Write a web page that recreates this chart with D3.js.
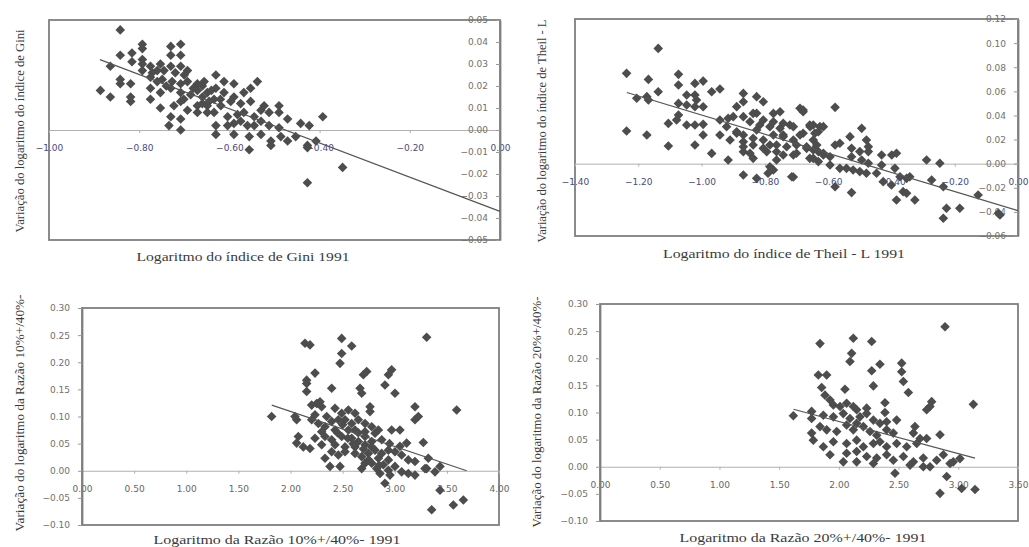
<!DOCTYPE html>
<html>
<head>
<meta charset="utf-8">
<script src="https://cdn.jsdelivr.net/npm/d3@7/dist/d3.min.js"></script>
<style>
  body { margin: 0; background: #fff; }
  .tick text { font-family: "DejaVu Sans", sans-serif; font-size: 9px; }
  .title { font-family: "Liberation Serif", serif; font-size: 12.5px; fill: #3a3a3a; }
</style>
</head>
<body>
<div id="chart"></div>
<script>
var width = 1029,
    height = 547;

// painel 1: Gini
var giniPts = [
  [-0.842,0.0455],[-0.793,0.039],[-0.793,0.037],[-0.730,0.038],[-0.708,0.039],[-0.730,0.034],[-0.708,0.034],
  [-0.842,0.034],[-0.816,0.035],[-0.816,0.031],[-0.793,0.032],[-0.793,0.030],[-0.864,0.029],[-0.886,0.018],
  [-0.864,0.015],[-0.842,0.023],[-0.842,0.021],[-0.819,0.021],[-0.819,0.015],[-0.819,0.013],
  [-0.793,0.027],[-0.775,0.029],[-0.771,0.026],[-0.753,0.030],[-0.745,0.027],[-0.730,0.029],[-0.708,0.029],[-0.693,0.027],
  [-0.775,0.024],[-0.760,0.022],[-0.749,0.023],[-0.727,0.022],[-0.708,0.021],[-0.693,0.022],[-0.671,0.021],[-0.656,0.022],
  [-0.630,0.025],[-0.612,0.022],[-0.590,0.021],
  [-0.775,0.019],[-0.775,0.014],[-0.753,0.017],[-0.730,0.019],[-0.708,0.017],[-0.701,0.014],[-0.686,0.016],[-0.671,0.018],
  [-0.649,0.017],[-0.630,0.019],[-0.612,0.017],[-0.590,0.015],[-0.568,0.017],[-0.553,0.019],[-0.538,0.022],
  [-0.753,0.010],[-0.723,0.011],[-0.708,0.013],[-0.693,0.009],[-0.671,0.011],[-0.660,0.012],[-0.649,0.011],[-0.634,0.014],
  [-0.619,0.011],[-0.597,0.013],[-0.575,0.012],[-0.553,0.013],[-0.523,0.011],[-0.490,0.011],
  [-0.730,0.006],[-0.708,0.005],[-0.671,0.008],[-0.649,0.008],[-0.634,0.008],[-0.604,0.006],[-0.582,0.007],[-0.568,0.008],
  [-0.545,0.006],[-0.530,0.009],[-0.512,0.008],[-0.490,0.008],[-0.471,0.005],
  [-0.734,0.002],[-0.708,0.000],[-0.630,0.002],[-0.630,-0.002],[-0.604,0.002],[-0.590,0.003],[-0.575,0.004],[-0.560,0.002],
  [-0.545,0.002],[-0.530,0.004],[-0.512,0.002],[-0.490,0.001],[-0.442,0.003],[-0.423,0.002],[-0.393,0.006],
  [-0.590,-0.002],[-0.556,-0.003],[-0.556,-0.009],[-0.530,-0.002],[-0.508,-0.005],[-0.508,-0.007],[-0.486,-0.003],
  [-0.471,-0.005],[-0.453,-0.003],[-0.427,-0.007],[-0.427,-0.008],[-0.408,-0.005],
  [-0.660,0.015],[-0.645,0.013],[-0.640,0.018],[-0.620,0.014],[-0.660,0.020],[-0.680,0.019],[-0.700,0.025],
  [-0.720,0.026],[-0.740,0.020],[-0.760,0.027],
  [-0.349,-0.017],[-0.427,-0.024]
];
var giniTrend = [[-0.887, 0.032], [0, -0.037]];
var giniXTicks = [-1, -0.8, -0.6, -0.4, -0.2, 0];
var giniYTicks = [-0.05, -0.04, -0.03, -0.02, -0.01, 0, 0.01, 0.02, 0.03, 0.04, 0.05];

// painel 2: Theil - L
var theilPts = [
  [-1.137,0.0956],[-1.237,0.0749],[-1.237,0.0271],[-1.205,0.0542],[-1.173,0.0556],[-1.168,0.0528],[-1.168,0.0699],
  [-1.173,0.0238],[-1.137,0.0597],[-1.105,0.0334],[-1.105,0.0146],[-1.073,0.0741],[-1.073,0.0652],[-1.073,0.0500],
  [-1.073,0.0403],[-1.079,0.0362],[-1.047,0.0569],[-1.047,0.0486],[-1.021,0.0666],[-0.995,0.0685],[-1.021,0.0569],
  [-1.016,0.0528],[-1.021,0.0472],[-0.995,0.0472],[-1.047,0.0321],[-1.021,0.0321],[-0.995,0.0326],[-0.995,0.0238],
  [-1.021,0.0155],[-0.968,0.0597],[-0.942,0.0619],[-0.968,0.0085],[-0.942,0.0238],[-0.916,0.0030],[-0.942,0.0362],
  [-0.916,0.0376],[-0.900,0.0390],[-0.889,0.0473],[-0.868,0.0583],[-0.868,0.0514],[-0.826,0.0556],[-0.805,0.0514],
  [-0.889,0.0265],[-0.868,0.0238],[-0.868,0.0182],[-0.847,0.0348],[-0.837,0.0417],[-0.816,0.0321],[-0.837,0.0210],
  [-0.837,0.0155],[-0.868,0.0099],[-0.837,0.0044],[-0.805,0.0127],[-0.868,-0.0094],[-0.826,-0.0122],[-0.773,-0.0053],
  [-0.715,-0.0108],[-0.773,0.0417],[-0.752,0.0431],[-0.773,0.0348],[-0.752,0.0293],[-0.773,0.0238],[-0.742,0.0238],
  [-0.784,0.0155],[-0.763,0.0155],[-0.794,0.0099],[-0.763,0.0099],[-0.689,0.0459],[-0.679,0.0431],[-0.689,0.0238],
  [-0.658,0.0321],[-0.700,0.0155],[-0.668,0.0127],[-0.658,0.0044],[-0.721,0.0321],[-0.710,0.0072],[-0.742,0.0072],
  [-0.921,0.0307],[-0.910,0.0196],[-0.868,0.0390],[-0.889,0.0252],[-0.868,0.0140],[-0.847,0.0086],[-0.826,0.0418],
  [-0.826,0.0280],[-0.805,0.0196],[-0.805,0.0362],[-0.784,0.0307],[-0.742,0.0335],[-0.742,0.0224],[-0.731,0.0140],
  [-0.710,0.0307],[-0.710,0.0196],[-0.700,0.0086],[-0.679,0.0445],[-0.679,0.0252],[-0.668,0.0140],[-0.657,0.0307],
  [-0.647,0.0196],[-0.626,0.0307],[-0.615,0.0086],[-0.784,-0.0025],[-0.763,0.0030],[-0.710,-0.0110],[-0.790,-0.0080],
  [-0.578,0.0467],[-0.647,0.0321],[-0.615,0.0307],[-0.631,0.0265],[-0.642,0.0252],[-0.636,0.0155],[-0.647,0.0113],
  [-0.631,0.0100],[-0.615,0.0072],[-0.647,0.0044],[-0.631,0.0017],[-0.594,0.0058],[-0.594,-0.0011],[-0.578,0.0155],
  [-0.563,0.0169],[-0.578,-0.0191],[-0.531,0.0224],[-0.526,0.0127],[-0.526,0.0058],[-0.494,0.0293],[-0.479,0.0196],
  [-0.473,0.0141],[-0.500,0.0100],[-0.473,0.0100],[-0.494,0.0030],[-0.473,0.0003],[-0.563,-0.0039],[-0.542,-0.0039],
  [-0.521,-0.0052],[-0.500,-0.0066],[-0.479,-0.0080],[-0.447,-0.0080],[-0.526,-0.0240],[-0.431,0.0072],[-0.399,0.0072],
  [-0.384,0.0086],[-0.431,-0.0011],[-0.389,-0.0039],[-0.426,-0.0149],[-0.400,-0.0177],[-0.373,-0.0108],[-0.352,-0.0122],
  [-0.342,-0.0108],[-0.384,-0.0301],[-0.363,-0.0232],[-0.352,-0.0246],[-0.326,-0.0301],[-0.289,0.0030],[-0.247,0.0003],
  [-0.273,-0.0135],[-0.236,-0.0191],[-0.226,-0.0370],[-0.184,-0.0370],[-0.236,-0.0453],[-0.126,-0.0260],
  [-0.062,-0.0412],[-0.057,-0.0426]
];
var theilTrend = [[-1.236, 0.059], [0, -0.039]];
var theilXTicks = [-1.4, -1.2, -1, -0.8, -0.6, -0.4, -0.2, 0];
var theilYTicks = [-0.06, -0.04, -0.02, 0, 0.02, 0.04, 0.06, 0.08, 0.10, 0.12];

// painel 3: Razao 10%+/40%-
var razao10Pts = [
  [1.819,0.100],[2.139,0.235],[2.187,0.232],[2.491,0.244],[2.587,0.230],[2.491,0.216],[2.475,0.198],[3.306,0.246],
  [3.594,0.112],[2.731,0.183],[2.699,0.177],[2.970,0.186],[2.939,0.177],[2.906,0.158],[3.002,0.143],[2.235,0.180],
  [2.155,0.167],[2.155,0.161],[2.155,0.146],[2.395,0.152],[2.667,0.152],[2.683,0.143],[2.763,0.118],[2.763,0.109],
  [3.194,0.118],[3.226,0.100],[3.194,0.094],[3.274,0.052],[2.043,0.100],[2.059,0.094],[2.075,0.063],[2.059,0.051],
  [2.123,0.044],[2.187,0.041],[2.251,0.124],[2.283,0.127],[2.970,0.075],[3.050,0.075],[3.114,0.051],[3.322,0.023],
  [3.306,0.004],[3.434,0.008],[3.386,-0.002],[2.906,-0.023],[3.434,-0.036],[3.354,-0.072],[3.562,-0.063],[3.658,-0.054],
  [2.203,0.121],[2.267,0.124],[2.299,0.118],[2.427,0.115],[2.491,0.106],[2.555,0.112],[2.619,0.106],[2.235,0.103],
  [2.347,0.100],[2.203,0.094],[2.267,0.087],[2.331,0.081],[2.395,0.091],[2.459,0.094],[2.523,0.094],[2.587,0.087],
  [2.651,0.094],[2.715,0.087],[2.779,0.081],[2.843,0.075],[2.299,0.072],[2.427,0.075],[2.555,0.075],[2.619,0.075],
  [2.715,0.072],[2.811,0.069],[2.235,0.060],[2.331,0.063],[2.395,0.057],[2.491,0.063],[2.587,0.060],[2.651,0.054],
  [2.715,0.063],[2.779,0.054],[2.875,0.057],[2.299,0.048],[2.427,0.048],[2.523,0.044],[2.619,0.044],[2.715,0.048],
  [2.779,0.044],[2.331,0.023],[2.395,0.035],[2.459,0.029],[2.523,0.035],[2.619,0.032],[2.683,0.026],[2.747,0.032],
  [2.811,0.038],[2.875,0.032],[2.939,0.038],[3.002,0.035],[3.066,0.029],[3.130,0.020],[3.194,0.017],[2.843,0.023],
  [2.939,0.020],[2.379,0.008],[2.475,0.008],[2.683,0.004],[2.779,0.014],[2.827,0.004],[2.891,0.011],[2.939,0.001],
  [3.002,0.008],[3.066,-0.002],[3.130,-0.005],[3.194,-0.008],[3.290,0.004],[2.859,-0.005],[2.954,-0.008],[2.715,0.014],
  [2.550,0.060],[2.500,0.085],[2.450,0.070],[2.650,0.070],[2.600,0.050],[2.700,0.040],[2.750,0.020],[2.850,0.010],
  [2.950,0.050],[3.050,0.045]
];
var razao10Trend = [[1.82, 0.121], [3.69, 0.0]];
var razao10XTicks = [0, 0.5, 1, 1.5, 2, 2.5, 3, 3.5, 4];
var razao10YTicks = [-0.10, -0.05, 0, 0.05, 0.10, 0.15, 0.20, 0.25, 0.30];

// painel 4: Razao 20%+/40%-
var razao20Pts = [
  [2.889,0.258],[1.842,0.227],[2.121,0.237],[2.275,0.231],[2.107,0.209],[2.093,0.194],[2.344,0.189],[2.275,0.177],
  [2.526,0.191],[2.526,0.175],[2.540,0.157],[2.582,0.137],[2.289,0.149],[2.051,0.143],[1.828,0.169],[1.898,0.169],
  [1.856,0.146],[2.777,0.120],[2.763,0.111],[2.735,0.105],[3.126,0.115],[1.619,0.094],[1.772,0.102],[1.772,0.089],
  [2.386,0.118],[2.386,0.100],[2.637,0.074],[2.847,0.059],[2.875,0.022],[2.958,0.009],[3.014,0.015],[2.903,-0.018],
  [2.847,-0.049],[3.028,-0.040],[3.140,-0.042],[1.926,0.022],[2.037,0.009],[2.149,0.009],[2.470,-0.012],
  [1.884,0.132],[1.926,0.123],[1.954,0.114],[2.010,0.111],[2.065,0.117],[2.121,0.111],[2.233,0.108],[2.149,0.105],
  [1.870,0.095],[1.954,0.092],[2.037,0.098],[2.093,0.089],[2.177,0.092],[2.233,0.098],[2.289,0.086],[2.344,0.080],
  [2.400,0.083],[2.484,0.086],[2.149,0.080],[1.772,0.062],[1.842,0.074],[1.898,0.068],[1.982,0.065],[2.065,0.077],
  [2.121,0.068],[2.205,0.074],[2.261,0.065],[2.317,0.058],[2.400,0.068],[2.456,0.062],[2.624,0.062],[2.680,0.052],
  [2.735,0.052],[1.786,0.049],[1.870,0.037],[1.954,0.046],[2.065,0.043],[2.149,0.049],[2.205,0.037],[2.289,0.043],
  [2.344,0.046],[2.400,0.037],[2.484,0.043],[2.568,0.037],[2.652,0.043],[2.065,0.025],[2.149,0.028],[2.233,0.019],
  [2.317,0.016],[2.400,0.022],[2.456,0.012],[2.540,0.019],[2.624,0.009],[2.707,0.016],[2.763,0.000],[2.819,0.012],
  [2.289,0.006],[2.596,0.003],[2.931,0.006],[2.707,0.000]
];
var razao20Trend = [[1.62, 0.106], [3.14, 0.016]];
var razao20XTicks = [0, 0.5, 1, 1.5, 2, 2.5, 3, 3.5];
var razao20YTicks = [-0.10, -0.05, 0, 0.05, 0.10, 0.15, 0.20, 0.25, 0.30];

var panels = [
  { pts: giniPts, trend: giniTrend, xTicks: giniXTicks, yTicks: giniYTicks,
    xDomain: [-1, 0], yDomain: [-0.05, 0.05], box: [49, 500, 20, 240], xColor: "#4a4a7c",
    xTitle: "Logaritmo do índice de Gini 1991", xt: [243, 261, 213],
    yTitle: "Variação do logaritmo do índice de Gini", yt: [24, 131, 203] },
  { pts: theilPts, trend: theilTrend, xTicks: theilXTicks, yTicks: theilYTicks,
    xDomain: [-1.4, 0], yDomain: [-0.06, 0.12], box: [575, 1018, 19, 236], xColor: "#4a4a7c",
    xTitle: "Logaritmo do índice de Theil - L 1991", xt: [784, 258, 242],
    yTitle: "Variação do logaritmo do índice de Theil - L", yt: [546, 131, 223] },
  { pts: razao10Pts, trend: razao10Trend, xTicks: razao10XTicks, yTicks: razao10YTicks,
    xDomain: [0, 4], yDomain: [-0.1, 0.3], box: [82, 499, 308, 525], xColor: "#666",
    xTitle: "Logaritmo da Razão 10%+/40%- 1991", xt: [277, 544, 247],
    yTitle: "Variação do logaritmo da Razão 10%+/40%-", yt: [24, 413, 237] },
  { pts: razao20Pts, trend: razao20Trend, xTicks: razao20XTicks, yTicks: razao20YTicks,
    xDomain: [0, 3.5], yDomain: [-0.1, 0.3], box: [600, 1018, 304, 521], xColor: "#666",
    xTitle: "Logaritmo da Razão 20%+/40%- 1991", xt: [803, 542, 247],
    yTitle: "Variação do logaritmo da Razão 20%+/40%-", yt: [541, 412, 231] }
];

var fmt = d3.format(".2f");

var svg = d3.select("#chart").append("svg")
    .attr("width", width)
    .attr("height", height);

panels.forEach(drawPanel);

function drawPanel(p) {
  var x = d3.scaleLinear().domain(p.xDomain).range([p.box[0], p.box[1]]),
      y = d3.scaleLinear().domain(p.yDomain).range([p.box[3], p.box[2]]);

  var g = svg.append("g");

  g.append("rect")
      .attr("x", p.box[0])
      .attr("y", p.box[2])
      .attr("width", p.box[1] - p.box[0])
      .attr("height", p.box[3] - p.box[2])
      .attr("fill", "none")
      .attr("stroke", "#7f7f7f")
      .attr("stroke-width", 1.8);

  var xAxis = g.append("g")
      .attr("transform", "translate(0," + y(0) + ")")
      .call(d3.axisBottom(x).tickValues(p.xTicks).tickFormat(fmt)
        .tickSize(3).tickSizeOuter(0).tickPadding(12));
  xAxis.select(".domain").attr("stroke", "#b0b0b0");
  xAxis.selectAll(".tick line").attr("stroke", "#b0b0b0");
  xAxis.selectAll(".tick text").attr("fill", p.xColor);

  var yAxis = g.append("g")
      .attr("transform", "translate(" + x(0) + ",0)")
      .call(d3.axisLeft(y).tickValues(p.yTicks).tickFormat(fmt)
        .tickSize(4).tickSizeOuter(0).tickPadding(8));
  yAxis.select(".domain").attr("stroke", "#7f7f7f").attr("stroke-width", 1.8);
  yAxis.selectAll(".tick line").attr("stroke", "#999");
  yAxis.selectAll(".tick text").attr("fill", "#707070");

  g.selectAll("path.pt")
      .data(p.pts)
    .enter().append("path")
      .attr("class", "pt")
      .attr("d", d3.symbol(d3.symbolSquare, 46))
      .attr("transform", function(d) {
        return "translate(" + x(d[0]) + "," + y(d[1]) + ")rotate(45)";
      })
      .attr("fill", "#4d4d4d");

  g.append("path")
      .datum(p.trend)
      .attr("d", d3.line()
        .x(function(d) { return x(d[0]); })
        .y(function(d) { return y(d[1]); }))
      .attr("fill", "none")
      .attr("stroke", "#555")
      .attr("stroke-width", 1.2);

  g.append("text")
      .attr("class", "title")
      .attr("x", p.xt[0])
      .attr("y", p.xt[1])
      .attr("text-anchor", "middle")
      .attr("textLength", p.xt[2])
      .attr("lengthAdjust", "spacingAndGlyphs")
      .text(p.xTitle);

  g.append("text")
      .attr("class", "title")
      .attr("transform", "translate(" + p.yt[0] + "," + p.yt[1] + ")rotate(-90)")
      .attr("text-anchor", "middle")
      .attr("textLength", p.yt[2])
      .attr("lengthAdjust", "spacingAndGlyphs")
      .text(p.yTitle);
}
</script>
</body>
</html>
